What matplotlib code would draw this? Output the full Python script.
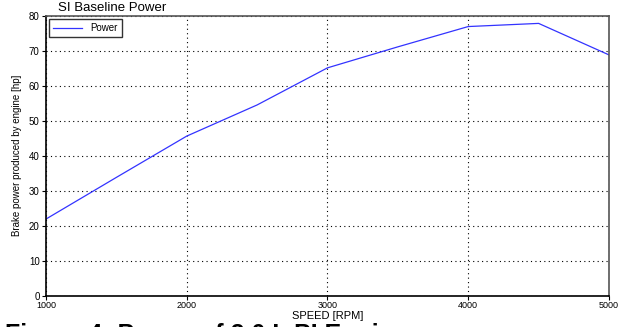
import matplotlib
matplotlib.use('Agg')
import matplotlib.pyplot as plt
import numpy as np

plt.rcParams['font.family'] = ['Liberation Sans', 'DejaVu Sans']

# engine speed sweep and brake power
speed = [1000, 1500, 2000, 2500, 3000, 3500, 4000, 4500, 5000]
power = [21.9, 33.8, 45.6, 54.5, 65.1, 71.1, 76.9, 77.8, 68.8]

x_ticks = [1000, 2000, 3000, 4000, 5000]
y_ticks = [0, 10, 20, 30, 40, 50, 60, 70, 80]

fig = plt.figure(figsize=(6.18, 3.27), dpi=100)
ax = fig.add_axes([0.0744, 0.0957, 0.911, 0.8563])

ax.plot(speed, power, color='#3333ff', lw=0.9, label='Power')

ax.set_xlim(1000, 5000)
ax.set_ylim(0, 80)
ax.set_xticks(x_ticks)
ax.set_yticks(y_ticks)
ax.tick_params(length=3, width=0.8, colors='black')
ax.tick_params(axis='x', labelsize=6.5, pad=1)
ax.tick_params(axis='y', labelsize=7, pad=1.5)
ax.grid(True, color='black', linestyle=(0, (1, 3)), lw=0.8)

for side in ['left', 'bottom']:
    ax.spines[side].set_linewidth(1.2)
    ax.spines[side].set_color('black')
for side in ['top', 'right']:
    ax.spines[side].set_linewidth(1.2)
    ax.spines[side].set_color('#555555')

ax.set_xlabel('SPEED [RPM]', fontsize=8, labelpad=0.5)
ax.set_ylabel('Brake power produced by engine [hp]', fontsize=7, labelpad=5)

leg = ax.legend(loc='upper left', fontsize=7, frameon=True, fancybox=False,
                handlelength=3, borderaxespad=0.3, borderpad=0.45)
leg.get_frame().set_edgecolor('black')
leg.get_frame().set_linewidth(1.0)

fig.text(0.094, 0.975, 'SI Baseline Power', fontsize=9.5, va='center', ha='left')
fig.text(0.008, -0.045, 'Figure 4: Power of 2.0 L PI Engine', fontsize=18,
         fontweight='bold', va='baseline', ha='left')

fig.savefig('out.png', dpi=100)
